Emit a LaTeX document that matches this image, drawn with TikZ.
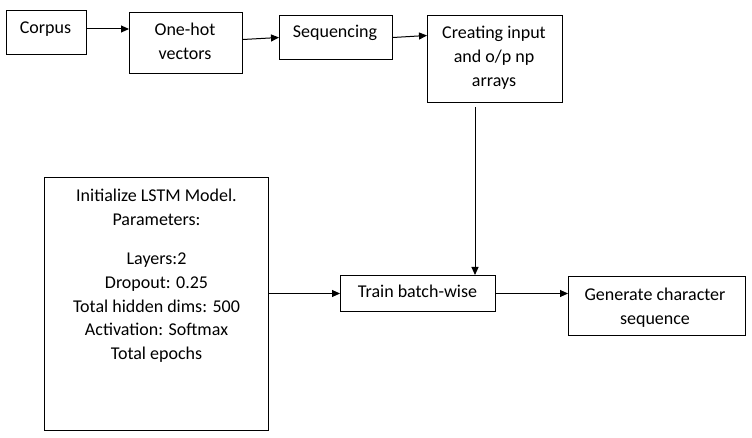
\documentclass[tikz,border=0pt]{standalone}
\usepackage{fontspec}
\setmainfont{Carlito}
\usetikzlibrary{arrows.meta}
\tikzset{
  box/.style={draw=black, line width=1pt, inner sep=0pt, anchor=north west, rectangle},
  txt/.style={inner sep=0pt, anchor=base, align=center, font=\fontsize{18}{24}\selectfont},
  arr/.style={draw=black, line width=1pt, -{Triangle[length=8pt,width=7pt]}}
}
\begin{document}
\begin{tikzpicture}[x=1pt,y=-1pt]
\useasboundingbox (0,0) rectangle (752,438);
% boxes
\node[box, minimum width=80pt, minimum height=44pt] (corpus) at (6,10) {};
\node[box, minimum width=113pt, minimum height=61pt] (onehot) at (129,12) {};
\node[box, minimum width=113pt, minimum height=44pt] (seq) at (279,15) {};
\node[box, minimum width=135pt, minimum height=87pt] (create) at (427,15) {};
\node[box, minimum width=224pt, minimum height=253pt] (lstm) at (44,177) {};
\node[box, minimum width=155pt, minimum height=36pt] (train) at (340,275) {};
\node[box, minimum width=177pt, minimum height=59pt] (gen) at (568,276) {};
% texts (base anchor = baseline of last line)
\node[txt] (corpusT) at (45.5,34) {Corpus};
\node[txt] (onehotT) at (185,60) {One-hot\\vectors};
\node[txt] (seqT) at (335,38) {Sequencing};
\node[txt] (createT) at (494,86.5) {Creating input\\and o/p np\\arrays};
\node[txt, font=\fontsize{18}{23.7}\selectfont] (lstmT) at (156.5,359.5) {Initialize LSTM Model.\\Parameters:\\[15.5pt]Layers:2\\Dropout: 0.25\\Total hidden dims: 500\\Activation: Softmax\\Total epochs};
\node[txt] (trainT) at (417.5,298) {Train batch-wise};
\node[txt] (genT) at (655,324) {Generate character\\sequence};
% helper coordinates
\coordinate (r1) at (0,29);
\coordinate (r2a) at (0,39.5);
\coordinate (r2b) at (0,37.5);
\coordinate (r3a) at (0,37.5);
\coordinate (r3b) at (0,35.5);
\coordinate (r4) at (0,293.5);
\coordinate (c1) at (475,107);
% connectors
\draw[arr] (corpus.east |- r1) -- (onehot.west |- r1);
\draw[arr] (onehot.east |- r2a) -- (seq.west |- r2b);
\draw[arr] (seq.east |- r3a) -- (create.west |- r3b);
\draw[arr] (c1) -- (c1 |- train.north);
\draw[arr] (lstm.east |- r4) -- (train.west |- r4);
\draw[arr] (train.east |- r4) -- (gen.west |- r4);
\end{tikzpicture}
\end{document}
